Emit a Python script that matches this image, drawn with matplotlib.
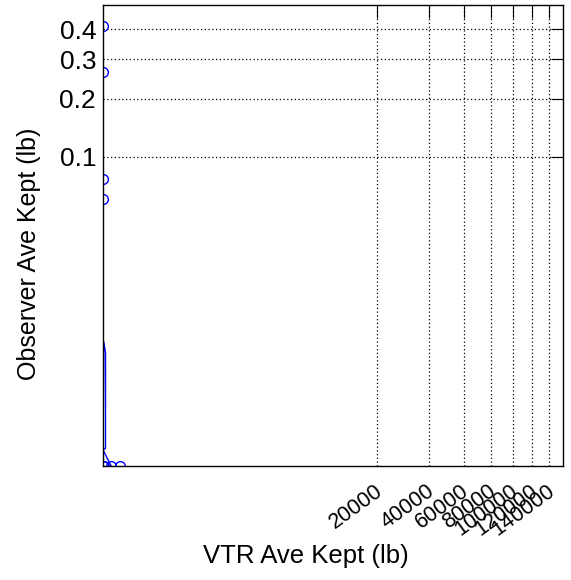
import numpy as np
import matplotlib
matplotlib.use("Agg")
import matplotlib.pyplot as plt
import matplotlib.transforms as mtransforms

plt.rcParams['font.family'] = ['Liberation Sans', 'DejaVu Sans']

# observed points (circles)
vtr_pts = [0, 0, 0, 0, 0, 0.00001, 0.0145, 0.295]
obs_pts = [0.4125, 0.264, 0.0744, 0.0554, 0, 0, 0, 0]

# thin fitted curve near the origin
vtr_line = [0, 0.000001, 0.00014, 0.00014, 0, 0.0145]
obs_line = [0, 0.0026, 0.0018, 0.000001, 0.0000007, 0]

x_ticks = [20000, 40000, 60000, 80000, 100000, 120000, 140000]
y_ticks = [0.1, 0.2, 0.3, 0.4]


def fwd(v):
    v = np.asarray(v, dtype=float)
    return np.sign(v) * np.abs(v) ** 0.25


def inv(v):
    v = np.asarray(v, dtype=float)
    return np.sign(v) * np.abs(v) ** 4


fig = plt.figure(figsize=(5.71, 5.80), dpi=100)
ax = fig.add_axes([103 / 571, 1 - 465.7 / 580, 459.7 / 571, 460.7 / 580])

ax.set_xscale('function', functions=(fwd, inv))
ax.set_yscale('function', functions=(fwd, inv))

ax.plot(vtr_line, obs_line, color='#0000ff', lw=1.0)
ax.plot(vtr_pts, obs_pts, 'o', mfc='none', mec='#0000ff', ms=7, mew=1.0)

ax.set_xlim(0, 157700)
ax.set_ylim(0, 0.4956)
ax.set_xticks(x_ticks)
ax.set_yticks(y_ticks)
ax.set_xticklabels([str(t) for t in x_ticks], rotation=36, ha='right',
                   va='center', rotation_mode='anchor', fontsize=15.5)
ax.set_yticklabels([f'{t:g}' for t in y_ticks], fontsize=19)
ax.grid(True, color='black', linestyle=(0, (1, 2)), linewidth=0.9)

ax.tick_params(axis='both', which='both', direction='in',
               length=0, pad=5)
ax.tick_params(axis='x', pad=17)
ax.tick_params(top=True, right=True, labeltop=False, labelright=False)
for t in ax.xaxis.get_major_ticks():
    t.tick2line.set_markersize(9)
for t in ax.yaxis.get_major_ticks():
    t.tick2line.set_markersize(9)

# nudge rotated labels a little to the right
shift = mtransforms.ScaledTranslation(3 / 100, 0, fig.dpi_scale_trans)
for lbl in ax.get_xticklabels():
    lbl.set_transform(lbl.get_transform() + shift)

for s in ax.spines.values():
    s.set_linewidth(1.0)
    s.set_color('black')

ax.set_xlabel('VTR Ave Kept (lb)', fontsize=18.5)
ax.set_ylabel('Observer Ave Kept (lb)', fontsize=18)
ax.xaxis.set_label_coords(0.4405, -0.195)
ax.yaxis.set_label_coords(-0.16, 0.4595)
ax.xaxis.label.set_va('center')
ax.yaxis.label.set_va('center')

fig.savefig('out.png', dpi=100)
